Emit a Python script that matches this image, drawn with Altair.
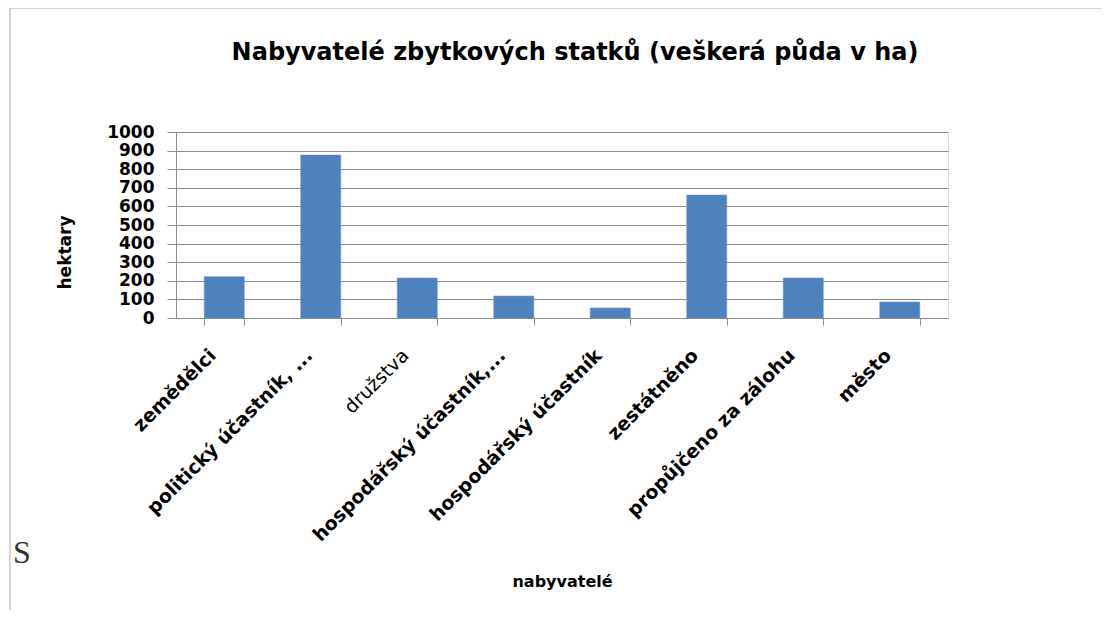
import altair as alt
import pandas as pd

categories = [
    "zemědělci",
    "politický účastník, ...",
    "družstva",
    "hospodářský účastník,...",
    "hospodářský účastník",
    "zestátněno",
    "propůjčeno za zálohu",
    "město",
]
values = [222, 876, 215, 118, 54, 661, 215, 86]
y_ticks = [0, 100, 200, 300, 400, 500, 600, 700, 800, 900, 1000]

title_text = "Nabyvatelé zbytkových statků (veškerá půda v ha)"
x_title = "nabyvatelé"
y_title = "hektary"

df = pd.DataFrame({"kat": categories, "ha": values})
one = pd.DataFrame({"a": [0]})

FONT = "DejaVu Sans"
GRAY = "#8c8c8c"

bars = alt.Chart(df).mark_bar(color="#4f81bd", stroke="#6a95c8", strokeWidth=0.6).encode(
    x=alt.X(
        "kat:N",
        sort=None,
        scale=alt.Scale(paddingInner=0.585, paddingOuter=0.2925),
        axis=alt.Axis(
            title=x_title,
            titleFont=FONT,
            titleFontSize=16,
            titleFontWeight="bold",
            titleColor="black",
            titleX=386,
            titleY=263,
            titleAlign="center",
            titleBaseline="middle",
            labelAngle=315,
            labelAlign="right",
            labelBaseline="middle",
            labelFont=FONT,
            labelFontSize=19,
            labelColor="black",
            labelFontWeight={"condition": {"test": "datum.value == 'družstva'", "value": "normal"}, "value": "bold"},
            labelLimit=500,
            labelPadding=27,
            labelOffset=-12,
            labelOverlap=False,
            tickBand="extent",
            tickSize=7,
            tickColor=GRAY,
            domainColor=GRAY,
            grid=False,
        ),
    ),
    y=alt.Y(
        "ha:Q",
        scale=alt.Scale(domain=[0, 1000], nice=False),
        axis=alt.Axis(
            title=y_title,
            titleFont=FONT,
            titleFontSize=17,
            titleFontWeight="bold",
            titleColor="black",
            titleAngle=270,
            titleX=-111,
            titleY=120,
            titleAlign="center",
            titleBaseline="middle",
            values=y_ticks,
            format="d",
            labelFont=FONT,
            labelFontSize=17,
            labelFontWeight="bold",
            labelColor="black",
            labelPadding=13,
            labelOverlap=False,
            labelBound=False,
            labelFlush=False,
            tickSize=9,
            tickColor=GRAY,
            domainColor=GRAY,
            gridColor=GRAY,
            grid=True,
        ),
    ),
)

frame_top = alt.Chart(one).mark_rule(color="#c8c8c8", strokeWidth=1.5).encode(
    x=alt.value(-166), x2=alt.value(940), y=alt.value(-124)
)
frame_left = alt.Chart(one).mark_rule(color="#c8c8c8", strokeWidth=1.5).encode(
    x=alt.value(-166), y=alt.value(-124), y2=alt.value(490)
)
s_text = alt.Chart(one).mark_text(
    text="S", font="Liberation Serif", fontSize=32, align="left", baseline="middle", color="#333333"
).encode(x=alt.value(-163), y=alt.value(421))
title_mark = alt.Chart(one).mark_text(
    text=title_text, font=FONT, fontSize=24, fontWeight="bold", align="center",
    baseline="middle", color="black"
).encode(x=alt.value(399), y=alt.value(-79))

chart = (
    alt.layer(frame_top, frame_left, s_text, title_mark, bars)
    .properties(
        width=772,
        height=186,
        autosize=alt.AutoSizeParams(type="none"),
        padding={"left": 168, "top": 124, "right": 153, "bottom": 292},
    )
    .configure_view(stroke=None)
    .configure(background="white")
)

chart.save("out.html", embed_options={"renderer": "svg", "actions": False})
